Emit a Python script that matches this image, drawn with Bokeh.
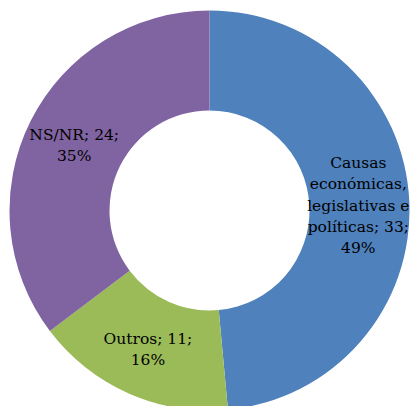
import math
from bokeh.plotting import figure
from bokeh.models import Range1d, ColumnDataSource
from bokeh.core.properties import value
from bokeh.embed import file_html
from bokeh.resources import INLINE

categories = ["Causas\neconómicas,\nlegislativas e\npolíticas", "Outros", "NS/NR"]
values = [33, 11, 24]
colors = ["#4F81BD", "#9BBB59", "#8064A2"]

total = sum(values)
starts, ends, lx, ly, labels = [], [], [], [], []
cum = 0.0
R_OUT, R_IN, R_LAB = 200, 100, 150
for cat, v in zip(categories, values):
    a0 = math.pi / 2 - 2 * math.pi * cum / total
    a1 = math.pi / 2 - 2 * math.pi * (cum + v) / total
    mid = (a0 + a1) / 2
    starts.append(a0)
    ends.append(a1)
    lx.append(R_LAB * math.cos(mid) - 1)
    ly.append(R_LAB * math.sin(mid) - 2)
    pct = round(100 * v / total)
    labels.append(f"{cat}; {v};\n{pct}%")
    cum += v

src = ColumnDataSource(dict(start=starts, end=ends, color=colors))
lsrc = ColumnDataSource(dict(x=lx, y=ly, text=labels))

p = figure(width=410, height=406, output_backend="svg", toolbar_location=None,
           x_range=Range1d(-209, 201), y_range=Range1d(-196, 210),
           min_border=0)
p.axis.visible = False
p.grid.visible = False
p.outline_line_color = None
p.background_fill_color = "white"
p.border_fill_color = "white"

p.annular_wedge(x=0, y=0, inner_radius=R_IN, outer_radius=R_OUT,
                start_angle="start", end_angle="end", direction="clock",
                fill_color="color", line_color=None, source=src)

p.text(x="x", y="y", text="text", source=lsrc, text_align="center",
       text_baseline="middle", text_font=value("DejaVu Serif"),
       text_font_size="15.5px", text_color="black", text_line_height=1.19)

open("out.html", "w").write(file_html(p, INLINE))
